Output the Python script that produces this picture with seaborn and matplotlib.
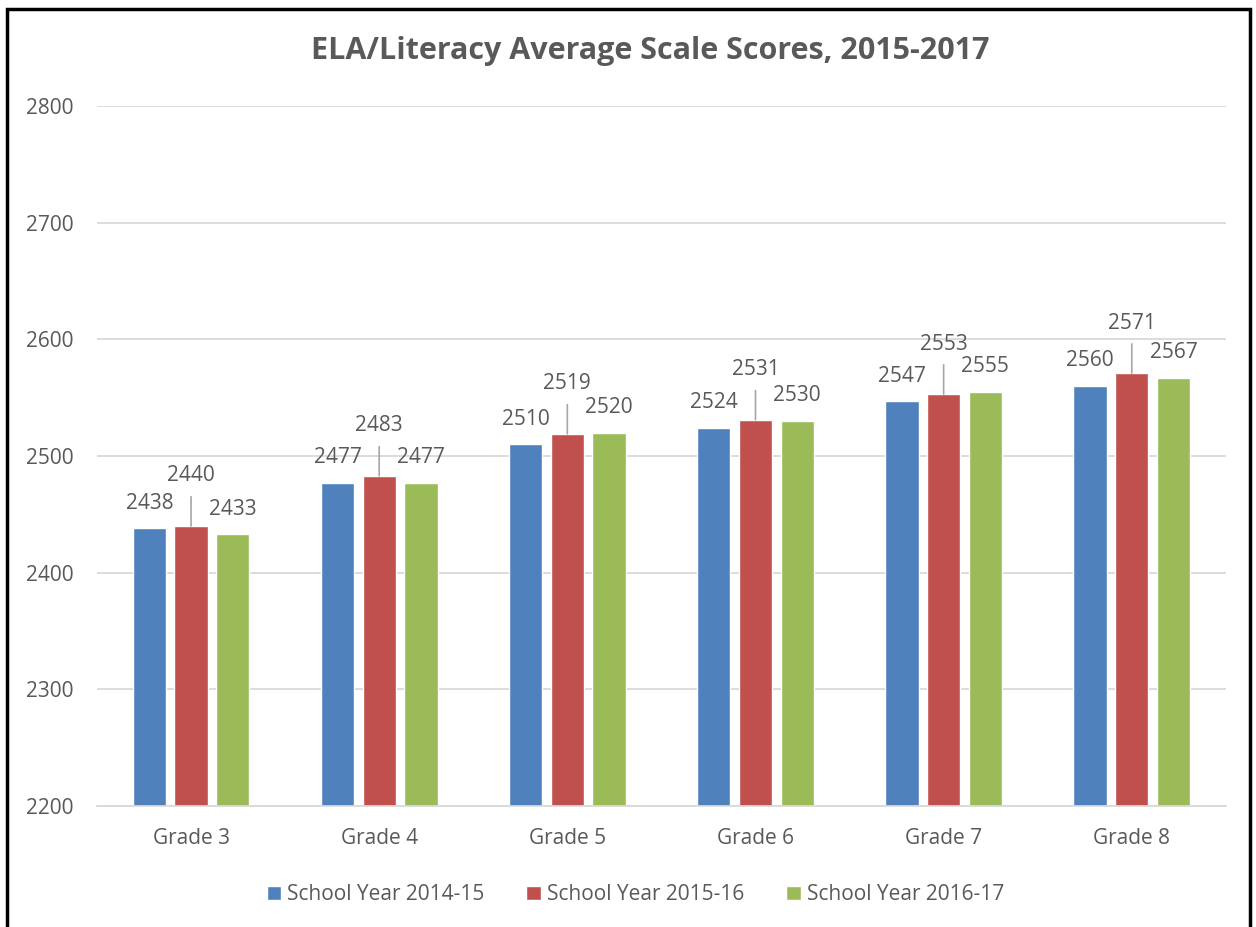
import pandas as pd
import seaborn as sns
import matplotlib.pyplot as plt
from matplotlib.patches import Rectangle

grades = ['Grade 3', 'Grade 4', 'Grade 5', 'Grade 6', 'Grade 7', 'Grade 8']
years = ['School Year 2014-15', 'School Year 2015-16', 'School Year 2016-17']
sy_2014_15 = [2438, 2477, 2510, 2524, 2547, 2560]
sy_2015_16 = [2440, 2483, 2519, 2531, 2553, 2571]
sy_2016_17 = [2433, 2477, 2520, 2530, 2555, 2567]
colors = ['#4F81BD', '#C0504D', '#9BBB59']

df = pd.DataFrame({
    'Grade': grades * 3,
    'Year': [years[0]] * 6 + [years[1]] * 6 + [years[2]] * 6,
    'Score': sy_2014_15 + sy_2015_16 + sy_2016_17,
})

sns.set_style('white')
plt.rcParams['font.family'] = ['Open Sans', 'DejaVu Sans']
txt = '#595959'
fs = 15

fig = plt.figure(figsize=(12.56, 9.27), dpi=100)
ax = fig.add_axes([0.0772, 0.1305, 0.8988, 0.7552])

sns.barplot(data=df, x='Grade', y='Score', hue='Year', palette=colors,
            saturation=1, width=0.665, gap=0.2, ax=ax, legend=True)

ax.set_ylim(2200, 2800)
ax.set_yticks(range(2200, 2801, 100))
ax.yaxis.grid(True, color='#D9D9D9', linewidth=1.3)
ax.set_axisbelow(True)
for s in ['left', 'right', 'top']:
    ax.spines[s].set_visible(False)
ax.spines['bottom'].set_color('#D9D9D9')
ax.spines['bottom'].set_linewidth(1.3)
ax.tick_params(axis='both', length=0, labelsize=fs, colors=txt)
ax.tick_params(axis='x', pad=16)
ax.tick_params(axis='y', pad=17)
ax.set_xlabel('')
ax.set_ylabel('')

# data labels
for i, cont in enumerate(ax.containers):
    for bar in cont:
        h = bar.get_height()
        x = bar.get_x() + bar.get_width() / 2
        if i == 1:
            ax.annotate(f'{h:.0f}', xy=(x, h), xytext=(0, 36), textcoords='offset points',
                        ha='center', va='center', fontsize=fs, color=txt,
                        arrowprops=dict(arrowstyle='-', color='#A6A6A6', lw=1.2,
                                        shrinkA=5, shrinkB=0))
        else:
            ax.annotate(f'{h:.0f}', xy=(x, h), xytext=(0, 18), textcoords='offset points',
                        ha='center', va='center', fontsize=fs, color=txt)

ax.legend(loc='upper center', bbox_to_anchor=(0.477, -0.085), ncol=3, frameon=False,
          fontsize=fs, labelcolor=txt, handlelength=0.7, handleheight=0.7,
          handletextpad=0.3, columnspacing=2.0)

fig.text(0.518, 0.945, 'ELA/Literacy Average Scale Scores, 2015-2017', ha='center',
         va='center', fontsize=22, fontweight='bold', color=txt)

# outer border (bottom edge cut off)
fig.patches.append(Rectangle((7 / 1256, -0.05), 1243 / 1256, 1.05 - 9 / 927,
                             transform=fig.transFigure, fill=False,
                             edgecolor='black', linewidth=2.5))

fig.savefig('out.png', dpi=100)
